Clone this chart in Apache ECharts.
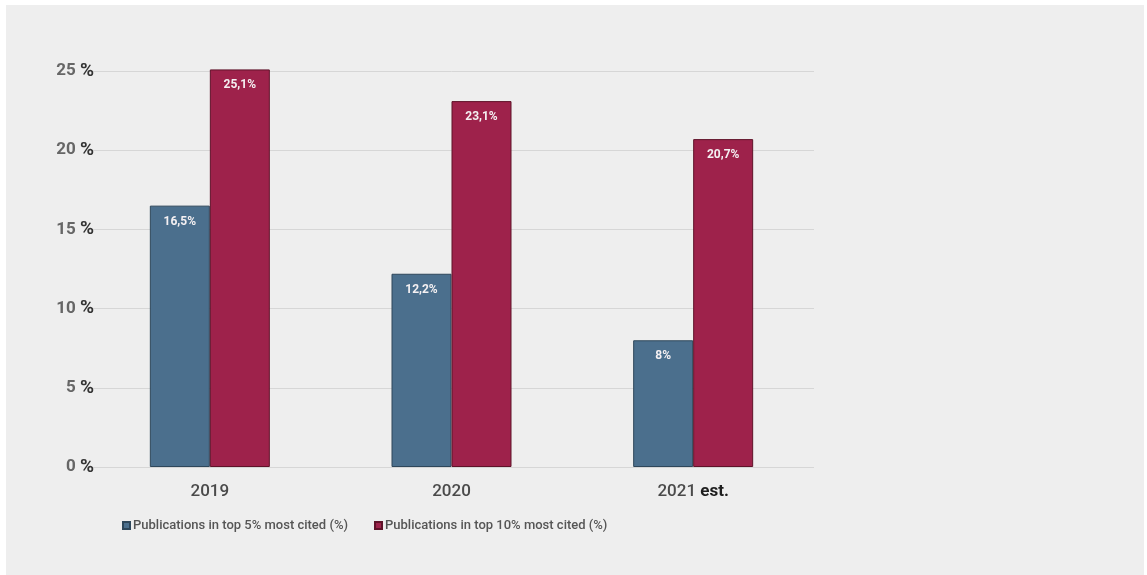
<!DOCTYPE html>
<html>
<head>
<meta charset="utf-8">
<script src="https://cdn.jsdelivr.net/npm/echarts@6/dist/echarts.min.js"></script>
<style>
  html, body { margin: 0; padding: 0; background: #ffffff; }
  #chart { position: absolute; left: 6px; top: 5px; width: 1138px; height: 570px; background: #eeeeee; }
</style>
</head>
<body>
<div id="chart"></div>
<script>
// Share of publications among the most cited, per year
const years = ['2019', '2020', '2021'];
const top5 = [16.5, 12.2, 8];
const top10 = [25.1, 23.1, 20.7];
const seriesNames = ['Publications in top 5% most cited (%)', 'Publications in top 10% most cited (%)'];
const yTicks = [0, 5, 10, 15, 20, 25];

const fmtValue = v => String(v).replace('.', ',') + '%';

const chart = echarts.init(document.getElementById('chart'));

const barLabel = {
  show: true,
  position: 'insideTop',
  distance: 10,
  color: '#f4f0f2',
  fontFamily: 'Roboto',
  fontWeight: 'bold',
  fontSize: 12,
  formatter: p => fmtValue(p.value)
};

chart.setOption({
  backgroundColor: '#eeeeee',
  animation: false,
  grid: { left: 83, right: 330, top: 66, bottom: 108 },
  legend: {
    left: 111,
    top: 509,
    itemWidth: 7,
    itemHeight: 7,
    itemGap: 26,
    icon: 'rect',
    textStyle: { color: '#555555', fontFamily: 'Roboto', fontSize: 13, fontWeight: 500, padding: [0, 0, 0, -2] },
    data: seriesNames
  },
  xAxis: {
    type: 'category',
    data: years,
    axisLine: { show: false },
    axisTick: { show: false },
    axisLabel: {
      margin: 16,
      fontFamily: 'Roboto',
      fontSize: 17,
      fontWeight: 500,
      color: '#4a4a4a',
      formatter: v => v === '2021' ? v + ' {b|est.}' : v,
      rich: { b: { fontFamily: 'Roboto', fontSize: 17, fontWeight: 'bold', color: '#1e1e1e' } }
    }
  },
  yAxis: {
    type: 'value',
    min: yTicks[0],
    max: yTicks[yTicks.length - 1],
    interval: 5,
    axisLine: { show: false },
    axisTick: { show: false },
    splitLine: { lineStyle: { color: '#d6d6d6', width: 1 } },
    axisLabel: {
      margin: -5,
      fontFamily: 'Roboto',
      fontSize: 17,
      fontWeight: 'bold',
      color: '#666666',
      formatter: v => v + ' {p|%}',
      rich: { p: { fontFamily: 'Roboto', fontSize: 19, fontWeight: 'bold', color: '#333333' } }
    }
  },
  series: [
    {
      name: seriesNames[0],
      type: 'bar',
      data: top5,
      barWidth: 60,
      barGap: '0%',
      clip: false,
      itemStyle: { color: '#4b6f8d', borderColor: '#2e475b', borderWidth: 1 },
      label: barLabel
    },
    {
      name: seriesNames[1],
      type: 'bar',
      data: top10,
      barWidth: 60,
      barGap: '0%',
      clip: false,
      itemStyle: { color: '#9e224b', borderColor: '#5f1229', borderWidth: 1 },
      label: barLabel
    }
  ]
});
</script>
</body>
</html>
